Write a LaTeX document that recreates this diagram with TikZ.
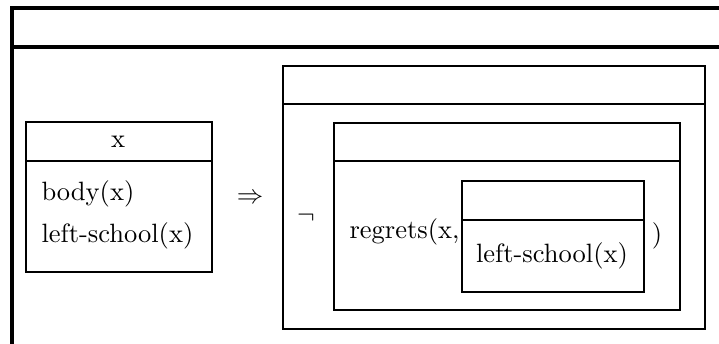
\documentclass[tikz,border=0pt]{standalone}
\begin{document}
\begin{tikzpicture}[x=1pt,y=-1pt,
  frame/.style={line width=3.3pt, line cap=rect},
  drsbox/.style={draw, line width=2.9pt, line cap=rect},
  txt/.style={inner sep=0pt, font=\fontsize{10}{12}\selectfont, scale=2.65}]
\useasboundingbox (0,0) rectangle (719,344);
\clip (0,0) rectangle (719,344);
% outermost box (runs off the page to the right and bottom)
\draw[frame] (740,8) -- (12,8) -- (12,370);
\draw[frame] (12,47) -- (740,47);
% antecedent box
\draw[drsbox] (26,122) rectangle (212,272);
\draw[drsbox] (26,161) -- (212,161);
\node[txt, anchor=base] (ref) at (118,148) {x};
\node[txt, anchor=base west] (c1) at (41,201) {body(x)};
\node[txt, anchor=base west] (c2) at (41,243) {left-school(x)};
% implication
\node[txt] (imp) at (250,199) {$\Rightarrow$};
% consequent box
\draw[drsbox] (283,66) rectangle (705,329);
\draw[drsbox] (283,104) -- (705,104);
\node[txt] (neg) at (306,218) {$\neg$};
% negated box
\draw[drsbox] (334,123) rectangle (680,310);
\draw[drsbox] (334,161) -- (680,161);
\node[txt, anchor=base west] (reg) at (349,239) {regrets(x,};
% embedded box
\draw[drsbox] (462,181) rectangle (644,292);
\draw[drsbox] (462,220) -- (644,220);
\node[txt, anchor=base] (emb) at (552,263) {left-school(x)};
\node[txt, anchor=base] (close) at (657,243) {)};
\end{tikzpicture}
\end{document}
